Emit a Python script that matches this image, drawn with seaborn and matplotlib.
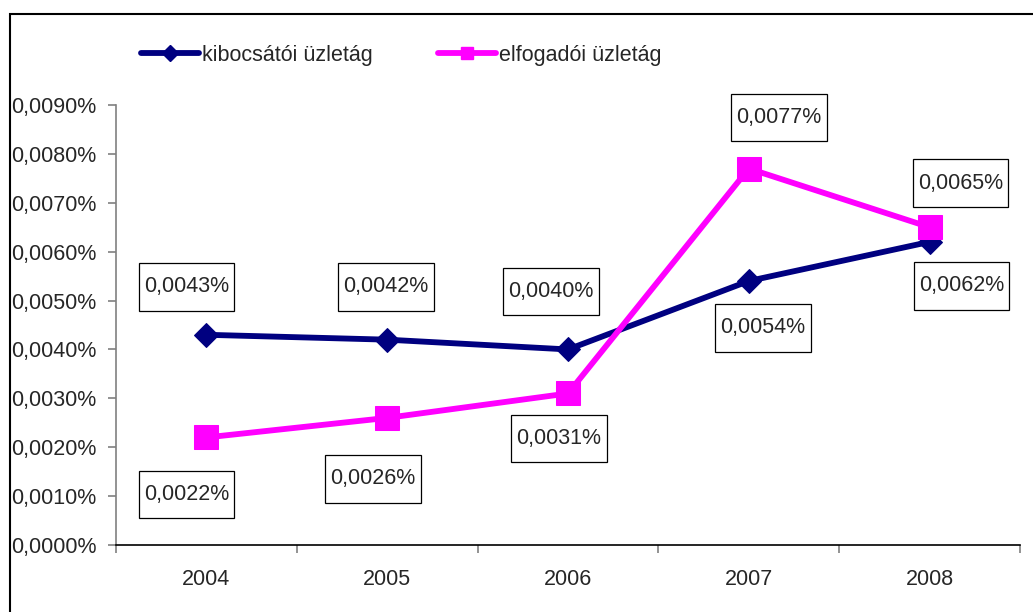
import matplotlib
matplotlib.use("Agg")
import matplotlib.pyplot as plt
from matplotlib.patches import Rectangle
from matplotlib.lines import Line2D
from matplotlib.path import Path
from matplotlib.ticker import FixedLocator, FuncFormatter, NullFormatter
import numpy as np
import pandas as pd
import seaborn as sns

# Data (values in percent)
years = ["2004", "2005", "2006", "2007", "2008"]
issuing = [0.0043, 0.0042, 0.0040, 0.0054, 0.0062]
acquiring = [0.0022, 0.0026, 0.0031, 0.0077, 0.0065]
series_names = ["kibocsátói üzletág", "elfogadói üzletág"]
y_ticks = [0.000, 0.001, 0.002, 0.003, 0.004, 0.005, 0.006, 0.007, 0.008, 0.009]

# Label offsets (pixels) relative to each point
issuing_offsets = [(-20, 48), (-1, 53), (-17, 58), (14, -47), (32, -44)]
acquiring_offsets = [(-20, -57), (-14, -61), (-9, -45), (30, 51), (31, 44)]

sns.set_style("white")
plt.rcParams["font.family"] = ["Liberation Sans", "DejaVu Sans"]

FS = 15.5
navy = "#000080"
magenta = "#FF00FF"

fig = plt.figure(figsize=(10.33, 6.12), dpi=100)
ax = fig.add_axes([116 / 1033, 1 - 545 / 612, (1020 - 116) / 1033, (545 - 105) / 612])

pos = np.arange(len(years))
df_iss = pd.DataFrame({"pos": pos, "value": issuing})
df_acq = pd.DataFrame({"pos": pos, "value": acquiring})

sns.lineplot(data=df_iss, x="pos", y="value", color=navy, linewidth=4.2,
             marker="D", markersize=12.5, markeredgecolor=navy, ax=ax, zorder=3)
sns.lineplot(data=df_acq, x="pos", y="value", color=magenta, linewidth=4.2,
             marker="s", markersize=17, markeredgecolor=magenta, ax=ax, zorder=4)

def fmt(v):
    return f"{v:.4f}%".replace(".", ",")

def label_box(x0, y0, width, height, mutation_size):
    # rectangle with more room above and below the text than at the sides
    px = 0.24 * mutation_size
    py = 0.62 * mutation_size
    verts = [(x0 - px, y0 - py), (x0 + width + px, y0 - py),
             (x0 + width + px, y0 + height + py), (x0 - px, y0 + height + py),
             (x0 - px, y0 - py)]
    codes = [Path.MOVETO, Path.LINETO, Path.LINETO, Path.LINETO, Path.CLOSEPOLY]
    return Path(verts, codes)

box = dict(boxstyle=label_box, facecolor="white", edgecolor="black", linewidth=0.9)
for vals, offs in ((issuing, issuing_offsets), (acquiring, acquiring_offsets)):
    for x, v, (dx, dy) in zip(pos, vals, offs):
        ax.annotate(fmt(v), (x, v), xytext=(dx, dy), textcoords="offset pixels",
                    ha="center", va="center", fontsize=FS, bbox=box, zorder=5)

# Axes styling
ax.set_xlim(-0.5, len(years) - 0.5)
ax.set_ylim(0, 0.009)
ax.set_yticks(y_ticks)
ax.yaxis.set_major_formatter(FuncFormatter(lambda v, p: fmt(v)))
ax.xaxis.set_major_locator(FixedLocator(np.arange(-0.5, len(years), 1.0)))
ax.xaxis.set_major_formatter(NullFormatter())
ax.xaxis.set_minor_locator(FixedLocator(pos))
ax.set_xticklabels(years, minor=True)
ax.tick_params(axis="x", which="major", bottom=True, length=6, width=1.2,
               color="#808080", direction="out")
ax.tick_params(axis="x", which="minor", bottom=True, length=0, pad=17, labelsize=FS)
ax.tick_params(axis="y", left=True, length=6, width=1.2, color="#808080",
               direction="out", pad=8, labelsize=FS)
ax.set_xlabel("")
ax.set_ylabel("")
for s in ("top", "right"):
    ax.spines[s].set_visible(False)
ax.spines["left"].set_color("#808080")
ax.spines["left"].set_linewidth(1.2)
ax.spines["bottom"].set_color("black")
ax.spines["bottom"].set_linewidth(1.2)
ax.grid(False)

# Legend
handles = [
    Line2D([], [], color=navy, linewidth=4.2, marker="D", markersize=8),
    Line2D([], [], color=magenta, linewidth=4.2, marker="s", markersize=9),
]
ax.legend(handles, series_names, loc="center left",
          bbox_to_anchor=(141 / 1033, 1 - 55 / 612), bbox_transform=fig.transFigure,
          ncol=2, frameon=False, borderpad=0, borderaxespad=0,
          handlelength=2.7, handletextpad=0.15, columnspacing=3.0, fontsize=FS)

# Chart frame
fig.add_artist(Rectangle((9.5 / 1033, -0.05), 1.1, (1 - 13.5 / 612) + 0.05,
                         transform=fig.transFigure, fill=False,
                         edgecolor="black", linewidth=1.5))

fig.savefig("out.png", dpi=100)
